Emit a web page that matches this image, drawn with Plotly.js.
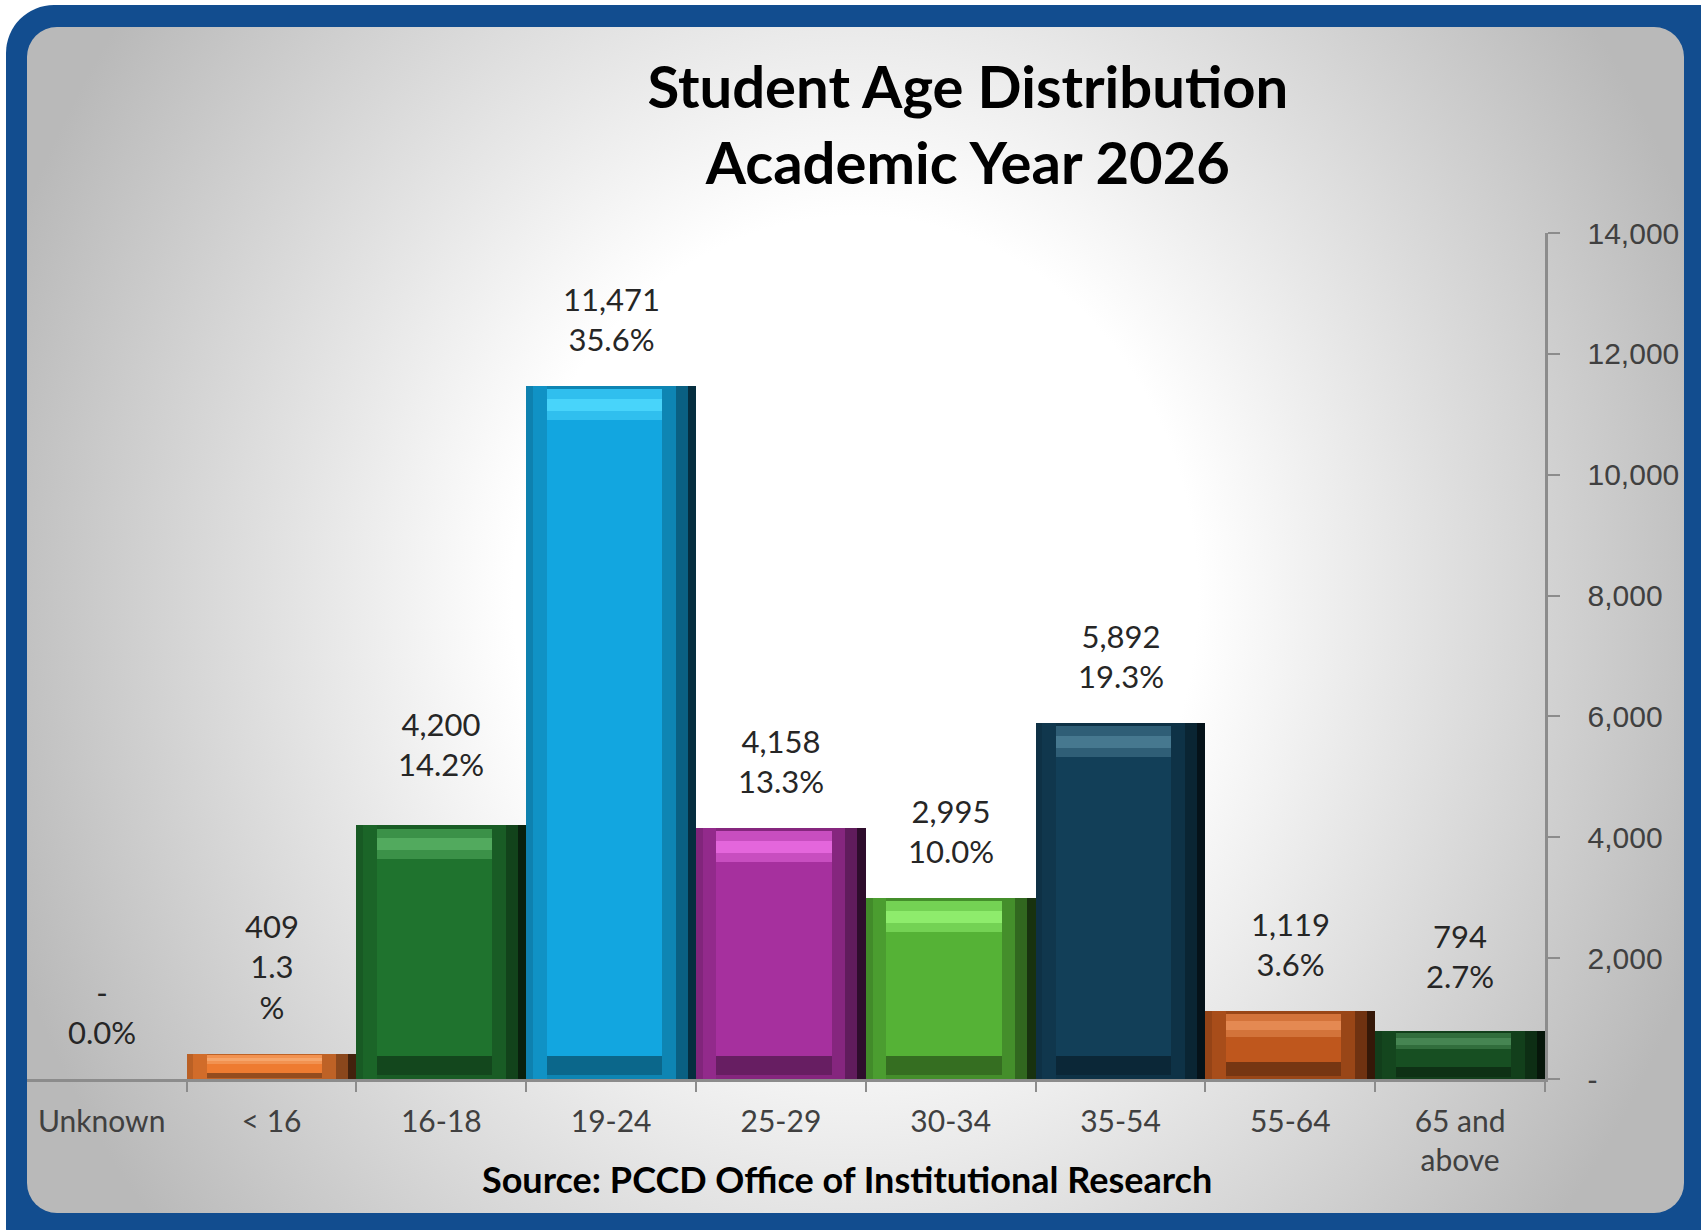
<!DOCTYPE html>
<html>
<head>
<meta charset="utf-8">
<script src="https://cdn.plot.ly/plotly-3.0.1.min.js"></script>
<style>
  html, body { margin: 0; padding: 0; background: #ffffff; }
  #page { position: relative; width: 1701px; height: 1230px; overflow: hidden; background: #ffffff; }
  #frame { position: absolute; left: 6px; top: 5px; width: 1740px; height: 1270px;
           background: #124d8f; border-radius: 48px; }
  #panel { position: absolute; left: 27px; top: 27px; width: 1657px; height: 1186px;
           border-radius: 30px; overflow: hidden;
           background: radial-gradient(ellipse 900px 1000px at 50% 48%, #ffffff 0%, #ffffff 38%, #b9b9b9 100%); }
  #chart { position: absolute; left: -27px; top: -27px; width: 1701px; height: 1230px; }
</style>
</head>
<body>
<div id="page">
  <div id="frame"></div>
  <div id="panel"><div id="chart"></div></div>
</div>
<script>
// ---- data ----
const categories = ['Unknown', '< 16', '16-18', '19-24', '25-29', '30-34', '35-54', '55-64', '65 and<br>above'];
const students   = [0, 409, 4200, 11471, 4158, 2995, 5892, 1119, 794];
const sharePct   = [0.0, 1.3, 14.2, 35.6, 13.3, 10.0, 19.3, 3.6, 2.7];
const yTickValues = [0, 2000, 4000, 6000, 8000, 10000, 12000, 14000];
const wrappedShareLabels = ['< 16'];

// ---- styles ----
const mainColors  = ['#ed7d31', '#ee7b30', '#1f732e', '#12a6e0', '#a6309e', '#55b236', '#123f58', '#bf571d', '#174f22'];
const lightColors = ['#f6a56a', '#f6a56a', '#52aa5e', '#48d4fa', '#e466dc', '#8eec6c', '#46788f', '#e48952', '#468552'];
const labelNudgePx = { '16-18': 14, '65 and<br>above': 8 };

function hexToRgb(h) { return [parseInt(h.slice(1,3),16), parseInt(h.slice(3,5),16), parseInt(h.slice(5,7),16)]; }
function mix(h, target, t) {
  const c = hexToRgb(h);
  const m = c.map((v, i) => Math.round(v + (target[i] - v) * t));
  return 'rgb(' + m.join(',') + ')';
}
const BLACK = [0,0,0];

const fmt = v => v === 0 ? '-' : v.toLocaleString('en-US');
const labelText = categories.map((c, i) => {
  const share = sharePct[i].toFixed(1);
  const shareTxt = wrappedShareLabels.includes(c) ? share + '<br>%' : share + '%';
  return fmt(students[i]) + '<br>' + shareTxt;
});

// bevel depth derived from values
const depth = students.map(v => Math.min(560, v * 0.38));

const common = { type: 'bar', x: categories, hoverinfo: 'skip' };
const strip = (y, base, width, offset, colors) => Object.assign({}, common, {
  y: y, base: base, width: width, offset: offset, marker: { color: colors, line: { width: 0 } }
});

const traces = [
  Object.assign({}, common, { name: 'Students', y: students, width: 1,
    marker: { color: mainColors, line: { width: 0 } } }),
  // top bevel
  strip(depth, students.map((v, i) => v - depth[i]), 1, undefined,
        mainColors.map((c, i) => mix(lightColors[i], hexToRgb(c), 0.45))),
  strip(depth.map(d => d * 0.36), students.map((v, i) => v - depth[i] * 0.74), 1, undefined, lightColors),
  strip(depth.map(d => d * 0.1), students.map((v, i) => v - depth[i] * 0.1), 1, undefined,
        mainColors.map(c => mix(c, BLACK, 0.2))),
  // bottom bevel
  strip(depth.map(d => d * 0.55), depth.map(d => d * 0.12), 1, undefined,
        mainColors.map(c => mix(c, BLACK, 0.38))),
  strip(depth.map(d => d * 0.12), depth.map(() => 0), 1, undefined,
        mainColors.map(c => mix(c, BLACK, 0.2))),
  // left side
  strip(students, undefined, 0.12, -0.5, mainColors.map(c => mix(c, BLACK, 0.12))),
  strip(students, undefined, 0.04, -0.5, mainColors.map(c => mix(c, BLACK, 0.22))),
  // right side gradient
  strip(students, undefined, 0.2, 0.3, mainColors.map(c => mix(c, BLACK, 0.2))),
  strip(students, undefined, 0.12, 0.38, mainColors.map(c => mix(c, BLACK, 0.42))),
  strip(students, undefined, 0.05, 0.45, mainColors.map(c => mix(c, BLACK, 0.72)))
];

const annotations = categories.map((c, i) => ({
  x: c, y: students[i], xref: 'x', yref: 'y',
  text: labelText[i], showarrow: false, yanchor: 'bottom', yshift: 26 + (labelNudgePx[c] || 0),
  font: { family: 'Lato, "Open Sans", sans-serif', size: 31, color: '#262626' }
}));
annotations.push({
  xref: 'paper', yref: 'paper', x: 0.540, y: -0.1187, xanchor: 'center', yanchor: 'middle',
  showarrow: false, text: '<b>Source: PCCD Office of Institutional Research</b>',
  font: { family: 'Lato, "Open Sans", sans-serif', size: 36, color: '#000000' }
});

const layout = {
  width: 1701, height: 1230,
  margin: { l: 27, r: 156, t: 233, b: 150.5, pad: 0 },
  paper_bgcolor: 'rgba(0,0,0,0)', plot_bgcolor: 'rgba(0,0,0,0)',
  showlegend: false, barmode: 'overlay', bargap: 0,
  title: {
    text: 'Student Age Distribution<br>Academic Year 2026',
    xref: 'container', yref: 'container', x: 0.569, xanchor: 'center', y: 0.912, yanchor: 'top',
    font: { family: 'Lato, "Open Sans", sans-serif', size: 58, weight: 'bold', color: '#000000' }
  },
  xaxis: {
    type: 'category', range: [-0.44, 8.5], fixedrange: true,
    showline: true, linecolor: '#8c8c8c', linewidth: 2.5,
    ticks: 'outside', tickson: 'boundaries', ticklen: 10, tickwidth: 2, tickcolor: '#8c8c8c',
    showgrid: false, zeroline: false, ticklabelstandoff: 14,
    tickfont: { family: 'Lato, "Open Sans", sans-serif', size: 30, color: '#404040' }
  },
  yaxis: {
    side: 'right', range: [0, 14000], fixedrange: true,
    tickvals: yTickValues, ticktext: yTickValues.map(fmt),
    showline: true, linecolor: '#8c8c8c', linewidth: 2.5,
    ticks: 'outside', ticklen: 12, tickwidth: 2, tickcolor: '#8c8c8c',
    showgrid: false, zeroline: false, ticklabelstandoff: 22,
    tickfont: { family: '"Liberation Sans", Arial, sans-serif', size: 30, color: '#404040' }
  },
  annotations: annotations
};

Plotly.newPlot('chart', traces, layout, { staticPlot: true, displayModeBar: false });
</script>
</body>
</html>
